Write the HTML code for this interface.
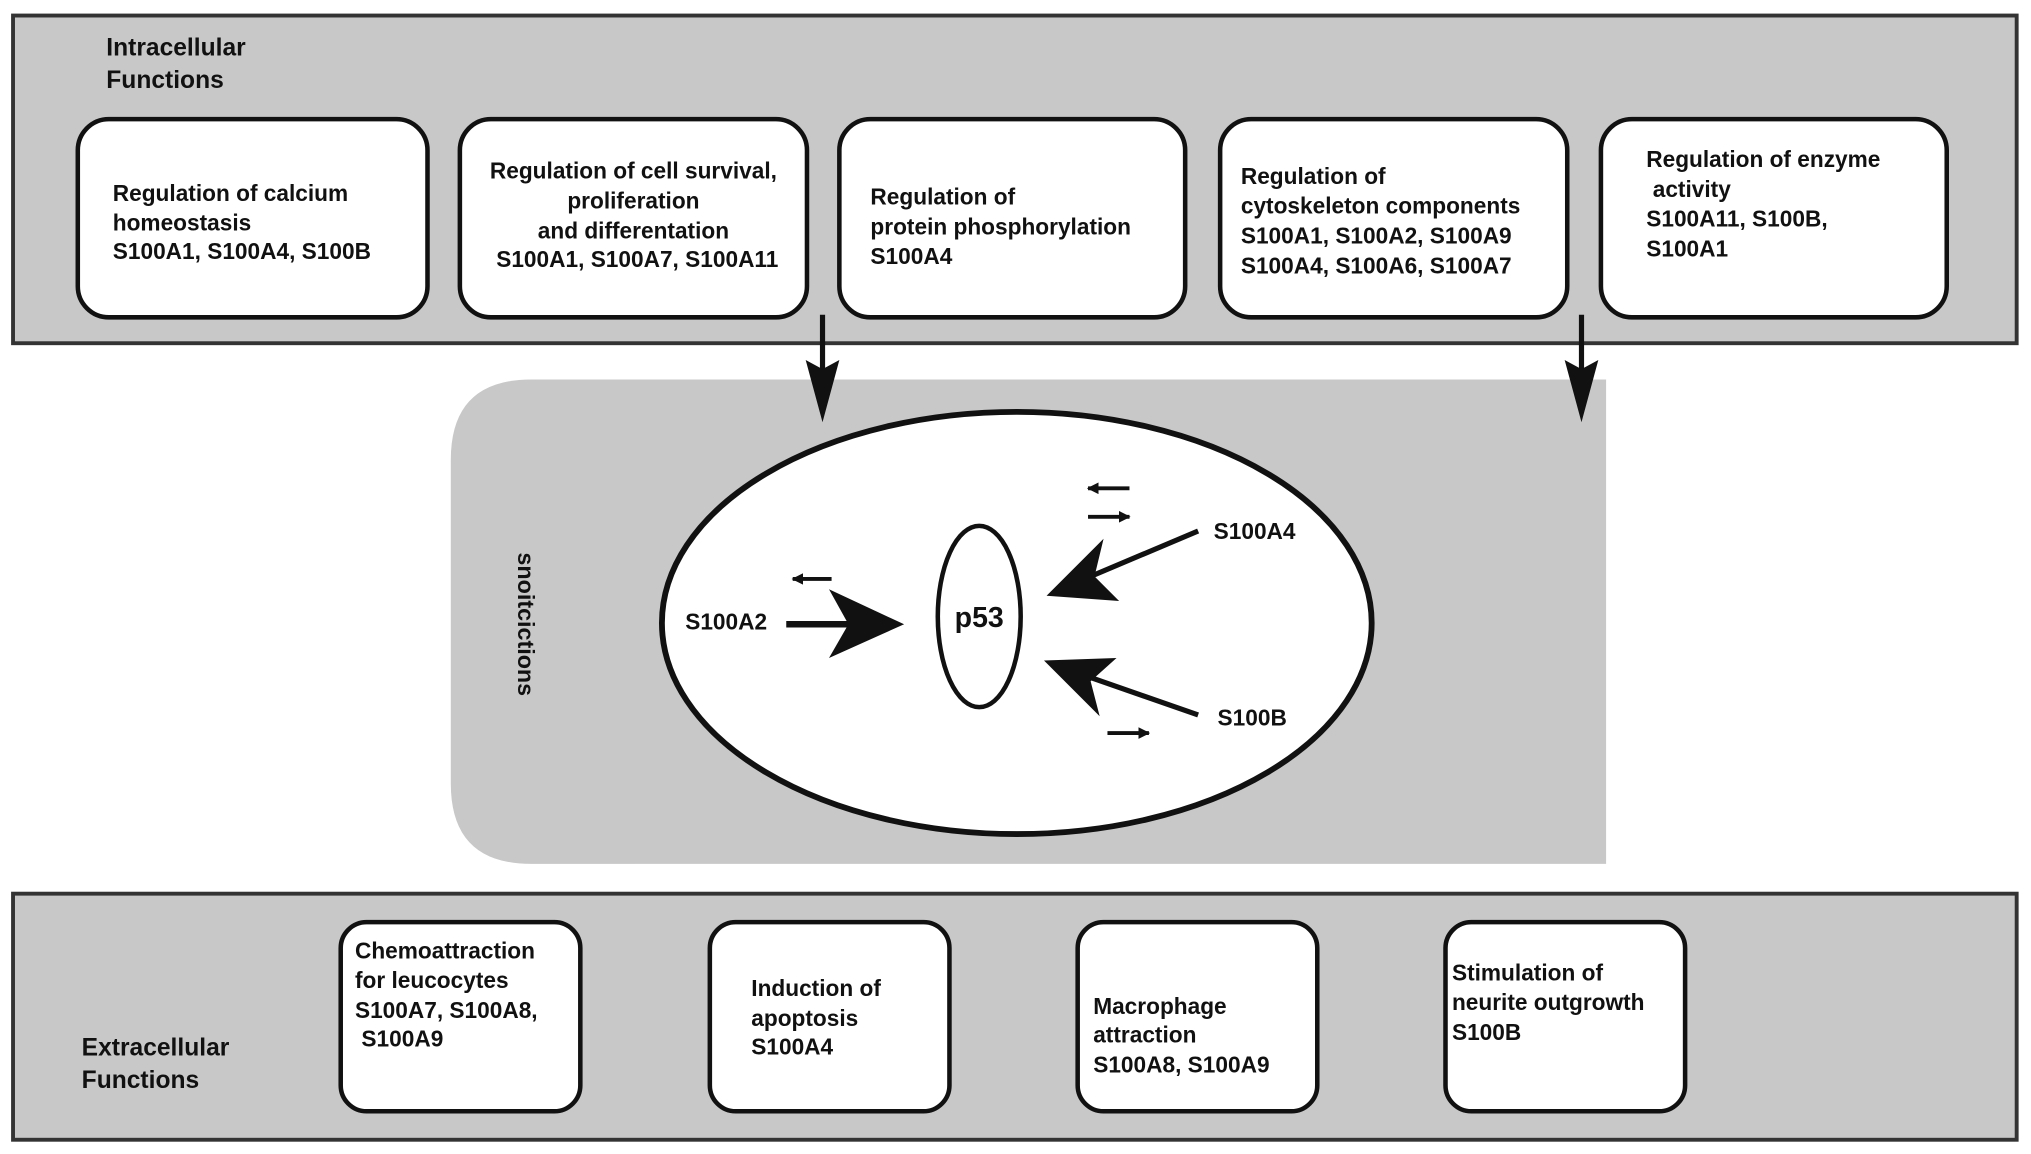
<!DOCTYPE html>
<html><head><meta charset="utf-8"><style>
html,body{margin:0;padding:0;background:#fff;}
svg{display:block;}
text{font-family:"Liberation Sans",Arial,sans-serif;font-weight:bold;fill:#111;}
.t{font-size:17.5px;}
</style></head><body>
<svg width="2031" height="1154" viewBox="0 0 1568 891" xmlns="http://www.w3.org/2000/svg">
<defs>
<marker id="ah" viewBox="0 0 10 10" refX="9" refY="5" markerWidth="9" markerHeight="9" orient="auto-start-reverse" markerUnits="userSpaceOnUse">
<path d="M0,0 L10,5 L0,10 z" fill="#111"/></marker>
</defs>
<rect x="10" y="12" width="1547" height="253" fill="#c8c8c8" stroke="#333" stroke-width="3"/>
<text x="82" y="43" style="font-size:19px">Intracellular</text>
<text x="82" y="68" style="font-size:19px">Functions</text>
<g fill="#fff" stroke="#111" stroke-width="3.5">
<rect x="60" y="92" width="270" height="153" rx="24"/>
<rect x="355" y="92" width="268" height="153" rx="24"/>
<rect x="648" y="92" width="267" height="153" rx="24"/>
<rect x="942" y="92" width="268" height="153" rx="24"/>
<rect x="1236" y="92" width="267" height="153" rx="24"/>
</g>
<text class="t" x="87" y="155">Regulation of calcium</text>
<text class="t" x="87" y="178">homeostasis</text>
<text class="t" x="87" y="200">S100A1, S100A4, S100B</text>
<g text-anchor="middle">
<text class="t" x="489" y="138">Regulation of cell survival,</text>
<text class="t" x="489" y="161">proliferation</text>
<text class="t" x="489" y="184">and differentation</text>
<text class="t" x="492" y="206">S100A1, S100A7, S100A11</text>
</g>
<text class="t" x="672" y="158">Regulation of</text>
<text class="t" x="672" y="181">protein phosphorylation</text>
<text class="t" x="672" y="204">S100A4</text>
<text class="t" x="958" y="142">Regulation of</text>
<text class="t" x="958" y="165">cytoskeleton components</text>
<text class="t" x="958" y="188">S100A1, S100A2, S100A9</text>
<text class="t" x="958" y="211">S100A4, S100A6, S100A7</text>
<text class="t" x="1271" y="129">Regulation of enzyme</text>
<text class="t" x="1276" y="152">activity</text>
<text class="t" x="1271" y="175">S100A11, S100B,</text>
<text class="t" x="1271" y="198">S100A1</text>
<path d="M410,293 H1240 V667 H410 Q348,667 348,605 V355 Q348,293 410,293 Z" fill="#c8c8c8"/>
<g stroke="#111" stroke-width="4">
<line x1="635" y1="243" x2="635" y2="290"/>
<line x1="1221" y1="243" x2="1221" y2="290"/>
</g>
<path d="M622,278 L635,285 L648,278 L635,326 Z" fill="#111"/>
<path d="M1208,278 L1221,285 L1234,278 L1221,326 Z" fill="#111"/>
<text x="400" y="482" transform="rotate(90 400 482)" text-anchor="middle" style="font-size:18px">snoitcictions</text>
<ellipse cx="785" cy="481" rx="274" ry="163" fill="#fff" stroke="#111" stroke-width="4.5"/>
<ellipse cx="756" cy="476" rx="32" ry="70" fill="#fff" stroke="#111" stroke-width="3.5"/>
<text x="756" y="484" text-anchor="middle" style="font-size:22px">p53</text>
<text class="t" x="529" y="486">S100A2</text>
<text class="t" x="937" y="416">S100A4</text>
<text class="t" x="940" y="560">S100B</text>
<line x1="607" y1="482" x2="660" y2="482" stroke="#111" stroke-width="5"/>
<path d="M640,455 L698,482 L640,508 L655,482 Z" fill="#111"/>
<line x1="925" y1="410" x2="835" y2="448" stroke="#111" stroke-width="4"/>
<path d="M808,460 L852,416 L845,445 L864,464 Z" fill="#111"/>
<line x1="925" y1="552" x2="833" y2="520" stroke="#111" stroke-width="4"/>
<path d="M806,510 L862,508 L842,526 L849,553 Z" fill="#111"/>
<g stroke="#111" stroke-width="3" fill="none">
<line x1="642" y1="447" x2="612" y2="447" marker-end="url(#ah)"/>
<line x1="872" y1="377" x2="840" y2="377" marker-end="url(#ah)"/>
<line x1="840" y1="399" x2="872" y2="399" marker-end="url(#ah)"/>
<line x1="855" y1="566" x2="887" y2="566" marker-end="url(#ah)"/>
</g>
<rect x="10" y="690" width="1547" height="190" fill="#c8c8c8" stroke="#333" stroke-width="3"/>
<text x="63" y="815" style="font-size:19px">Extracellular</text>
<text x="63" y="840" style="font-size:19px">Functions</text>
<g fill="#fff" stroke="#111" stroke-width="3.5">
<rect x="263" y="712" width="185" height="146" rx="20"/>
<rect x="548" y="712" width="185" height="146" rx="20"/>
<rect x="832" y="712" width="185" height="146" rx="20"/>
<rect x="1116" y="712" width="185" height="146" rx="20"/>
</g>
<text class="t" x="274" y="740">Chemoattraction</text>
<text class="t" x="274" y="763">for leucocytes</text>
<text class="t" x="274" y="786">S100A7, S100A8,</text>
<text class="t" x="279" y="808">S100A9</text>
<text class="t" x="580" y="769">Induction of</text>
<text class="t" x="580" y="792">apoptosis</text>
<text class="t" x="580" y="814">S100A4</text>
<text class="t" x="844" y="783">Macrophage</text>
<text class="t" x="844" y="805">attraction</text>
<text class="t" x="844" y="828">S100A8, S100A9</text>
<text class="t" x="1121" y="757">Stimulation of</text>
<text class="t" x="1121" y="780">neurite outgrowth</text>
<text class="t" x="1121" y="803">S100B</text>
</svg>
</body></html>
